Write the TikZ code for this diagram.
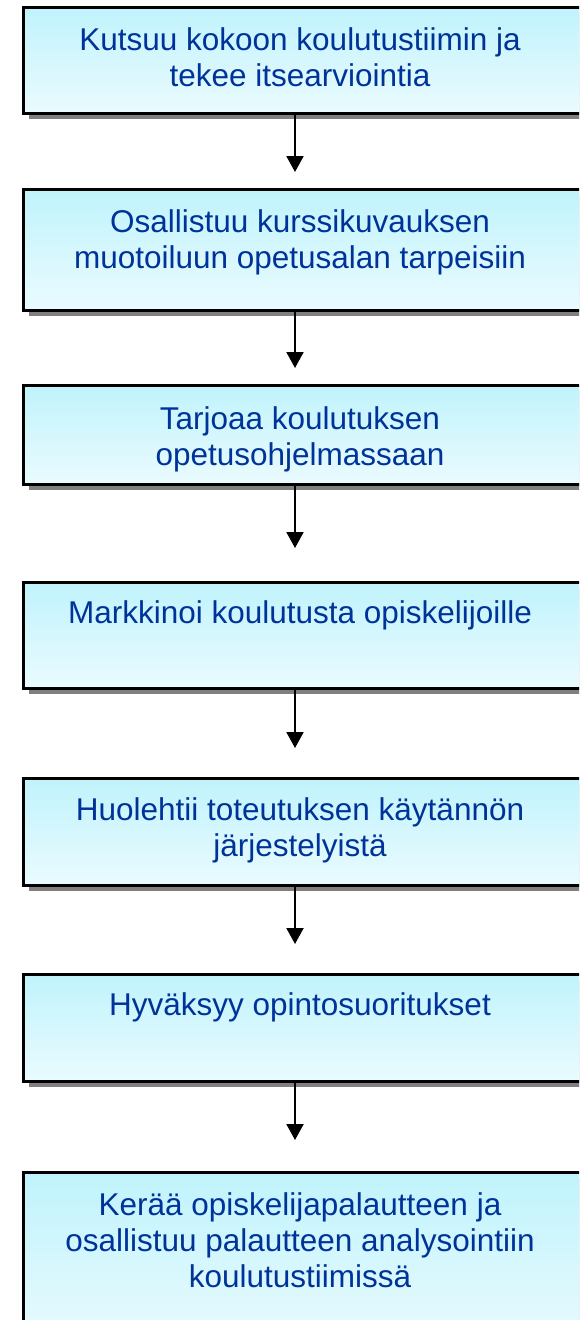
\documentclass[tikz,border=0pt]{standalone}
\usepackage{fontspec}
\setmainfont{Liberation Sans}
\usetikzlibrary{arrows.meta,shadows}
\definecolor{txtblue}{RGB}{0,51,153}
\definecolor{boxtop}{RGB}{192,243,252}
\definecolor{boxbot}{RGB}{234,251,254}
\definecolor{shadowgray}{RGB}{128,128,128}
\tikzset{
  flowbox/.style={draw=black, line width=2.5pt, rectangle, anchor=north west,
    minimum width=598pt, inner sep=0pt, top color=boxtop, bottom color=boxbot,
    drop shadow={shadow xshift=6pt, shadow yshift=-6pt, fill=shadowgray, opacity=1}},
  flowtxt/.style={anchor=base, align=center, inner sep=0pt, text=txtblue,
    font=\fontsize{31.5}{36}\selectfont},
  flowarr/.style={draw=black, line width=2pt, -{Triangle[width=17pt,length=16pt]}}
}
\begin{document}
\begin{tikzpicture}[x=1pt,y=-1pt]
\useasboundingbox (0,0) rectangle (579,1320);
\clip (0,0) rectangle (579,1320);
\fill[white] (0,0) rectangle (579,1320);
% boxes
\node[flowbox, minimum height=106pt] (b1) at (22,6) {};
\node[flowbox, minimum height=121pt] (b2) at (22,188) {};
\node[flowbox, minimum height=99pt] (b3) at (22,384) {};
\node[flowbox, minimum height=106pt] (b4) at (22,581) {};
\node[flowbox, minimum height=107pt] (b5) at (22,777) {};
\node[flowbox, minimum height=107pt] (b6) at (22,973) {};
\node[flowbox, minimum height=180pt] (b7) at (22,1171) {};
% texts (anchor base = last line's baseline)
\node[flowtxt] (t1) at (300,86) {Kutsuu kokoon koulutustiimin ja\\tekee itsearviointia};
\node[flowtxt] (t2) at (300,268) {Osallistuu kurssikuvauksen\\muotoiluun opetusalan tarpeisiin};
\node[flowtxt] (t3) at (300,465) {Tarjoaa koulutuksen\\opetusohjelmassaan};
\node[flowtxt] (t4) at (300,623) {Markkinoi koulutusta opiskelijoille};
\node[flowtxt] (t5) at (300,856) {Huolehtii toteutuksen käytännön\\järjestelyistä};
\node[flowtxt] (t6) at (300,1015) {Hyväksyy opintosuoritukset};
\node[flowtxt] (t7) at (300,1287) {Kerää opiskelijapalautteen ja\\osallistuu palautteen analysointiin\\koulutustiimissä};
% arrow tips
\coordinate (a1) at (295,172);
\coordinate (a2) at (295,368);
\coordinate (a3) at (295,548);
\coordinate (a4) at (295,748);
\coordinate (a5) at (295,944);
\coordinate (a6) at (295,1140);
\draw[flowarr] (b1.south -| a1) -- (a1);
\draw[flowarr] (b2.south -| a2) -- (a2);
\draw[flowarr] (b3.south -| a3) -- (a3);
\draw[flowarr] (b4.south -| a4) -- (a4);
\draw[flowarr] (b5.south -| a5) -- (a5);
\draw[flowarr] (b6.south -| a6) -- (a6);
\end{tikzpicture}
\end{document}
